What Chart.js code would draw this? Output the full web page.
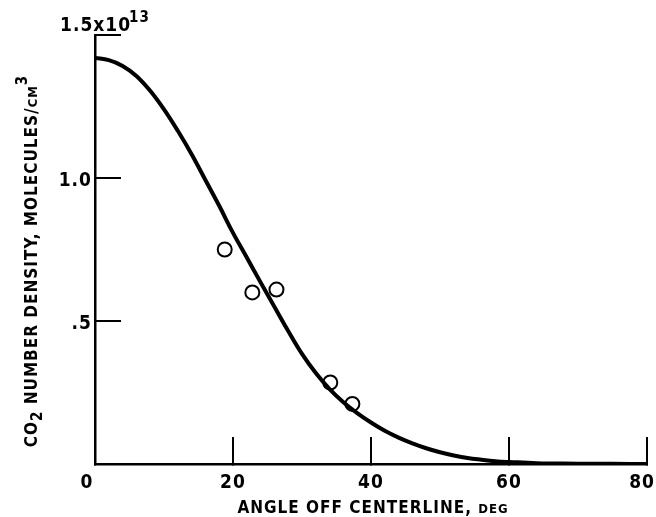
<!DOCTYPE html>
<html>
<head>
<meta charset="utf-8">
<script src="https://cdn.jsdelivr.net/npm/chart.js@4"></script>
<style>
  body { margin: 0; background: #fff; }
  #wrap { width: 656px; height: 517px; }
</style>
</head>
<body>
<div id="wrap"><canvas id="myChart" width="656" height="517"></canvas></div>
<script>
// fitted curve
const curveAngle = [0, 2, 4, 6, 8, 10, 12, 14, 16, 18, 20, 22, 24, 26, 28, 30, 32, 34, 36, 38,
    40, 42, 44, 46, 48, 50, 52, 54, 56, 58, 60, 62, 64, 66, 70, 75, 80];
const curveDensity = [1.420, 1.412, 1.392, 1.357, 1.305, 1.240, 1.165, 1.083, 0.993, 0.903, 0.808,
    0.722, 0.635, 0.550, 0.465, 0.385, 0.318, 0.262, 0.216, 0.178, 0.145, 0.116, 0.092, 0.072,
    0.055, 0.041, 0.030, 0.021, 0.015, 0.010, 0.007, 0.005, 0.003, 0.002, 0.001, 0.0005, 0];

// measured points
const pointAngle = [18.8, 22.8, 26.3, 34.1, 37.3];
const pointDensity = [0.75, 0.60, 0.61, 0.285, 0.21];

const xTicks = [0, 20, 40, 60, 80];
const xTickLabels = ['0', '20', '40', '60', '80'];
const yTicks = [0, 0.5, 1.0, 1.5];
const yTickLabels = ['', '.5', '1.0', '1.5x10'];

const FONT = '"DejaVu Sans Condensed", "Liberation Sans Narrow", sans-serif';

// draws a row of text pieces (normal / small / raised / lowered), centred on cx
function drawRich(ctx, parts, cx, baseY) {
    let total = 0;
    parts.forEach(p => {
        ctx.font = 'bold ' + p.size + 'px ' + FONT;
        p.w = ctx.measureText(p.text).width;
        total += p.w;
    });
    let cur = cx - total / 2;
    parts.forEach(p => {
        ctx.font = 'bold ' + p.size + 'px ' + FONT;
        ctx.fillText(p.text, cur, baseY + (p.dy || 0));
        cur += p.w;
    });
}

const axisText = {
    id: 'axisText',
    afterDraw(chart) {
        const {ctx, chartArea, scales: {x, y}} = chart;
        ctx.save();
        ctx.fillStyle = '#000';
        ctx.letterSpacing = '1px';

        // x tick labels
        ctx.font = 'bold 19px ' + FONT;
        ctx.textAlign = 'center';
        ctx.textBaseline = 'alphabetic';
        xTicks.forEach((v, i) => {
            let px = x.getPixelForValue(v);
            const w = ctx.measureText(xTickLabels[i]).width;
            if (i === 0) px -= 8;
            px = Math.min(px, chart.width - w / 2 - 1);
            ctx.fillText(xTickLabels[i], px, chartArea.bottom + 24);
        });

        // y tick labels
        yTicks.forEach((v, i) => {
            if (!yTickLabels[i]) return;
            const py = y.getPixelForValue(v);
            if (v === 1.5) {
                ctx.textAlign = 'left';
                ctx.font = 'bold 19px ' + FONT;
                ctx.fillText(yTickLabels[i], chartArea.left - 35, py - 4);
                const w = ctx.measureText(yTickLabels[i]).width;
                ctx.font = 'bold 15px ' + FONT;
                ctx.fillText('13', chartArea.left - 37 + w, py - 13);
            } else {
                ctx.textAlign = 'right';
                ctx.font = 'bold 19px ' + FONT;
                ctx.fillText(yTickLabels[i], chartArea.left - 3, py + 8);
            }
        });

        // x title
        ctx.textAlign = 'left';
        drawRich(ctx, [
            {text: 'ANGLE OFF CENTERLINE, ', size: 17},
            {text: 'DEG', size: 13}
        ], 373, chartArea.bottom + 49);

        // y title, rotated
        ctx.translate(37, 261);
        ctx.rotate(-Math.PI / 2);
        drawRich(ctx, [
            {text: 'CO', size: 17},
            {text: '2', size: 15, dy: 5},
            {text: ' NUMBER DENSITY, MOLECULES/', size: 17},
            {text: 'CM', size: 13},
            {text: '3', size: 15, dy: -10}
        ], 0, 0);
        ctx.restore();
    }
};

const ctx = document.getElementById('myChart').getContext('2d');
const chart = new Chart(ctx, {
    type: 'scatter',
    data: {
        datasets: [{
            label: 'data',
            data: pointAngle.map((a, i) => ({x: a, y: pointDensity[i]})),
            pointRadius: 7,
            pointBorderWidth: 2,
            pointBorderColor: '#000',
            pointBackgroundColor: 'rgba(0,0,0,0)',
            showLine: false
        }, {
            label: 'curve',
            data: curveAngle.map((a, i) => ({x: a, y: curveDensity[i]})),
            showLine: true,
            borderColor: '#000',
            borderWidth: 4,
            pointRadius: 0,
            tension: 0.4
        }]
    },
    options: {
        responsive: false,
        animation: false,
        layout: {padding: {left: 0, right: 3, top: 35, bottom: 0}},
        plugins: {legend: {display: false}, tooltip: {enabled: false}},
        scales: {
            x: {
                type: 'linear', min: 0, max: 80,
                afterBuildTicks: s => { s.ticks = xTicks.map(v => ({value: v})); },
                afterFit: s => { s.height = 53; },
                ticks: {display: false},
                grid: {display: true, drawOnChartArea: false, drawTicks: true, tickLength: -27,
                    color: '#000', lineWidth: 2},
                border: {display: true, color: '#000', width: 2.5}
            },
            y: {
                type: 'linear', min: 0, max: 1.5,
                afterBuildTicks: s => { s.ticks = yTicks.map(v => ({value: v})); },
                afterFit: s => { s.width = 95; },
                ticks: {display: false},
                grid: {display: true, drawOnChartArea: false, drawTicks: true, tickLength: -26,
                    color: '#000', lineWidth: 2},
                border: {display: true, color: '#000', width: 2.5}
            }
        }
    },
    plugins: [axisText]
});
</script>
</body>
</html>
